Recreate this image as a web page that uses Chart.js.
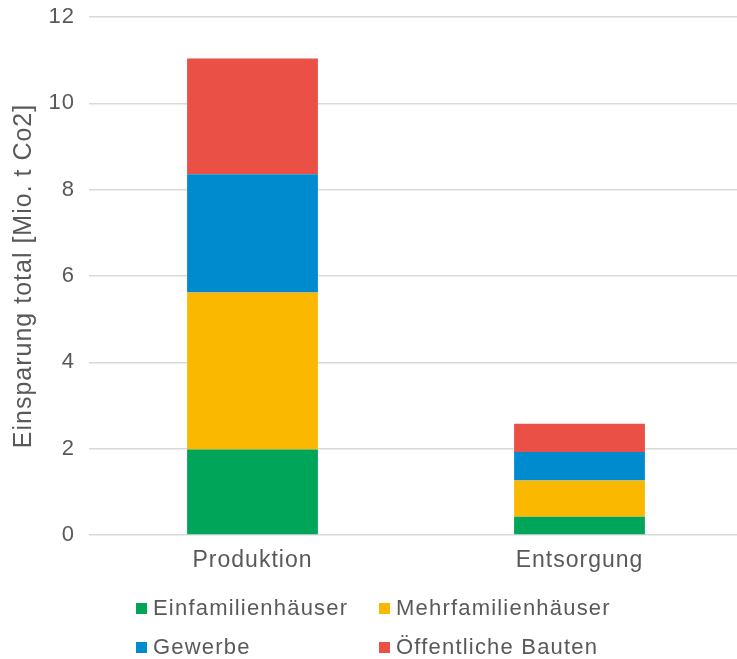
<!DOCTYPE html>
<html lang="de">
<head>
<meta charset="utf-8">
<title>Einsparung total</title>
<script src="https://cdn.jsdelivr.net/npm/chart.js@4.4.1/dist/chart.umd.min.js"></script>
<style>
  html, body { margin: 0; padding: 0; background: #fff; overflow: hidden; }
  /* canvas is a bit wider than the frame so the gridlines run off the right edge */
  #wrap { position: relative; width: 737px; height: 659px; overflow: hidden; }
  #chart { display: block; }
  #legend {
    position: absolute; left: 136px; top: 595px;
    display: grid; grid-template-columns: 243px auto; row-gap: 13px;
    font-family: "Liberation Sans", Arial, sans-serif; font-size: 22px;
    letter-spacing: 1.2px; color: #595959;
  }
  #legend .item { display: flex; align-items: center; height: 26px; }
  #legend .box { width: 11px; height: 11px; margin-right: 6px; flex: none; }
</style>
</head>
<body>
<div id="wrap">
  <canvas id="chart" width="743" height="659"></canvas>
  <div id="legend"></div>
</div>
<script>
(function () {
  "use strict";

  // ── Data ───────────────────────────────────
  const categories   = ["Produktion", "Entsorgung"];
  const seriesNames  = ["Einfamilienhäuser", "Mehrfamilienhäuser", "Gewerbe", "Öffentliche Bauten"];
  const einfamilien  = [1.98, 0.42];
  const mehrfamilien = [3.64, 0.84];
  const gewerbe      = [2.74, 0.66];
  const oeffentlich  = [2.68, 0.66];
  const yTicks       = [0, 2, 4, 6, 8, 10, 12];

  // ── Styling ────────────────────────────────
  const COLORS    = ["#00a55a", "#fbb800", "#008bcf", "#ea5045"];
  const TEXT      = "#595959";
  const GRID      = "#d9d9d9";
  const FONT      = "'Liberation Sans', Arial, sans-serif";
  const SPACING   = "1px";

  const seriesData = [einfamilien, mehrfamilien, gewerbe, oeffentlich];

  // canvas text tracking (reset whenever the canvas is resized)
  const tracking = {
    id: "tracking",
    beforeLayout(chart) { chart.ctx.letterSpacing = SPACING; },
    beforeDraw(chart)   { chart.ctx.letterSpacing = SPACING; }
  };

  new Chart(document.getElementById("chart"), {
    type: "bar",
    data: {
      labels: categories,
      datasets: seriesNames.map((name, i) => ({
        label: name,
        data: seriesData[i],
        backgroundColor: COLORS[i],
        borderWidth: 0,
        barPercentage: 0.4,
        categoryPercentage: 1
      }))
    },
    options: {
      responsive: false,
      animation: false,
      layout: { autoPadding: false, padding: { top: 17, right: 0, bottom: 84, left: 0 } },
      plugins: {
        legend: { display: false },
        tooltip: { enabled: false }
      },
      scales: {
        x: {
          stacked: true,
          grid: { display: false },
          border: { display: false },
          ticks: { color: TEXT, font: { family: FONT, size: 23 }, padding: 4 },
          afterFit(scale) {
            scale.height = 40;
            scale.paddingLeft = 0;
            scale.paddingRight = 0;
          }
        },
        y: {
          stacked: true,
          min: 0,
          max: 12,
          afterBuildTicks(scale) { scale.ticks = yTicks.map((v) => ({ value: v })); },
          grid: { color: GRID, lineWidth: 1.5, drawTicks: false },
          border: { display: false },
          ticks: { color: TEXT, font: { family: FONT, size: 22 }, padding: 14 },
          title: {
            display: true,
            text: "Einsparung total [Mio. t Co2]",
            color: TEXT,
            font: { family: FONT, size: 25 },
            padding: { top: 9, bottom: 0 }
          },
          afterFit(scale) {
            scale.width = 89;
            // tick padding would otherwise push the plot area down
            scale.paddingTop = 0;
            scale.paddingBottom = 0;
          }
        }
      }
    },
    plugins: [tracking]
  });

  // ── Legend (two aligned columns) ───────────
  const $legend = document.getElementById("legend");
  $legend.innerHTML = seriesNames.map((name, i) =>
    `<div class="item"><span class="box" style="background:${COLORS[i]}"></span>${name}</div>`
  ).join("");
})();
</script>
</body>
</html>
